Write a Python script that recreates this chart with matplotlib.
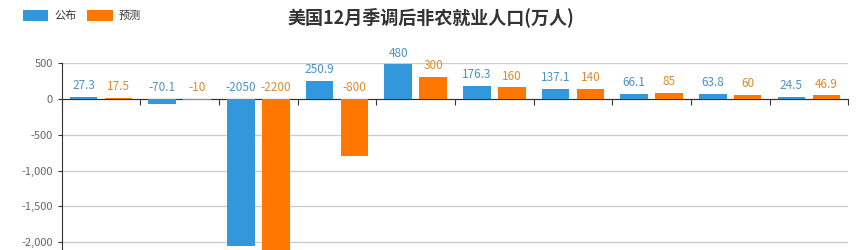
import numpy as np
import matplotlib
matplotlib.use("Agg")
import matplotlib.pyplot as plt
from matplotlib.ticker import FuncFormatter

plt.rcParams['font.family'] = ['Noto Sans CJK SC', 'DejaVu Sans']

# data
series_names = ['公布', '预测']
published = [27.3, -70.1, -2050, 250.9, 480, 176.3, 137.1, 66.1, 63.8, 24.5]
forecast = [17.5, -10, -2200, -800, 300, 160, 140, 85, 60, 46.9]
title = '美国12月季调后非农就业人口(万人)'

bar_colors = ['#3398DB', '#FF7700']
label_colors = ['#4C92C4', '#E08B2C']


def fmt_tick(v, pos):
    return f'{int(v):,}'


fig = plt.figure(figsize=(8.62, 2.5), dpi=100)
ax = fig.add_axes([0.0716, -0.112, 0.9124, 0.86])

x = np.arange(len(published))
width = 0.35
offset = 0.222
bars = []
for i, vals in enumerate([published, forecast]):
    pos = x + (-offset if i == 0 else offset)
    b = ax.bar(pos, vals, width=width, color=bar_colors[i], zorder=3, label=series_names[i])
    bars.append(b)
    for px, v in zip(pos, vals):
        ax.annotate(f'{v:g}', (px, max(v, 0)), xytext=(0, 3.5), textcoords='offset points',
                    ha='center', va='bottom', fontsize=8.5, color=label_colors[i])

ax.set_xlim(-0.5, len(published) - 0.5)
ax.set_ylim(-2500, 500)
ax.set_yticks([500, 0, -500, -1000, -1500, -2000])
ax.yaxis.set_major_formatter(FuncFormatter(fmt_tick))
ax.set_xticks(np.arange(len(published) + 1) - 0.5)
ax.set_xticklabels([])

ax.spines['top'].set_visible(False)
ax.spines['right'].set_visible(False)
ax.spines['bottom'].set_position(('data', 0))
ax.spines['bottom'].set_color('#333333')
ax.spines['left'].set_color('#333333')
ax.tick_params(axis='x', direction='out', length=4, color='#333333')
ax.tick_params(axis='y', length=3, color='#333333', labelcolor='#666666', labelsize=8)
ax.grid(axis='y', color='#cccccc', linewidth=1, zorder=0)

fig.text(0.5, 0.93, title, ha='center', va='center', fontsize=13, fontweight='bold', color='#333333')

fig.legend(handles=bars, labels=series_names, loc='upper left', bbox_to_anchor=(0.015, 1.0),
           ncol=2, frameon=False, fontsize=8, handlelength=2.3, handleheight=1.2,
           columnspacing=1.0, handletextpad=0.5, labelcolor='#333333')

fig.savefig('out.png', dpi=100)
